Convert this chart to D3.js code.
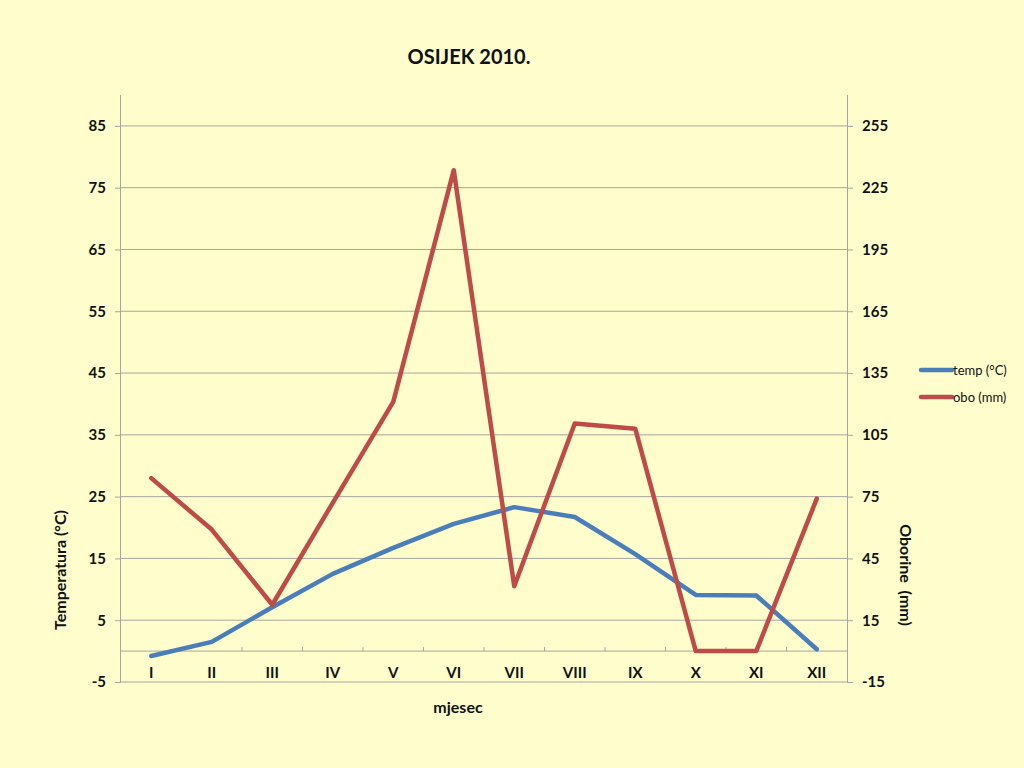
<!DOCTYPE html>
<html><head><meta charset="utf-8">
<script src="https://cdn.jsdelivr.net/npm/d3@7"></script>
<style>
html,body{margin:0;padding:0;background:#FEFDCB;}
svg{display:block;}
text{font-family:Lato,"Open Sans",sans-serif;fill:#111;}
</style></head>
<body>
<script>
const months = ["I","II","III","IV","V","VI","VII","VIII","IX","X","XI","XII"];
const temp = [-0.8, 1.5, 7.1, 12.5, 16.7, 20.6, 23.3, 21.7, 15.7, 9.1, 9.0, 0.3];
const obo = [84, 59, 22.5, 72, 121, 233.5, 31.5, 110.5, 108, 0, 0, 74];
const leftTicks = [-5, 5, 15, 25, 35, 45, 55, 65, 75, 85];
const rightTicks = [-15, 15, 45, 75, 105, 135, 165, 195, 225, 255];
const seriesNames = ["temp (°C)", "obo (mm)"];
const colors = ["#4A7EBB", "#BE4B48"];

const W = 1024, H = 768;
const L = 121, R = 847, T = 95, B = 682;
const svg = d3.select("body").append("svg").attr("width", W).attr("height", H);
svg.append("rect").attr("width", W).attr("height", H).attr("fill", "#FEFDCB");

const x = d3.scaleBand().domain(months).range([L, R]);
const yL = d3.scaleLinear().domain([-5, 90]).range([B, T]);
const yR = d3.scaleLinear().domain([-15, 270]).range([B, T]);

// gridlines
svg.append("g").selectAll("line").data(leftTicks).join("line")
  .attr("x1", L).attr("x2", R).attr("y1", d => yL(d)).attr("y2", d => yL(d))
  .attr("stroke", "#A6A6A0").attr("stroke-width", 1);

// left axis
const gL = svg.append("g").attr("transform", `translate(${L},0)`)
  .call(d3.axisLeft(yL).tickValues(leftTicks).tickFormat(d => String(d)).tickSize(6).tickPadding(9));
gL.select(".domain").attr("stroke", "#A6A6A0").attr("d", `M-0.5,${T}V${B}`);
gL.selectAll(".tick line").attr("stroke", "#A6A6A0");
gL.selectAll("text").attr("font-size", 15).attr("font-weight", "bold").attr("fill", "#111").attr("font-family", "Lato");

// right axis
const gR = svg.append("g").attr("transform", `translate(${R},0)`)
  .call(d3.axisRight(yR).tickValues(rightTicks).tickFormat(d => String(d)).tickSize(6).tickPadding(9));
gR.select(".domain").attr("stroke", "#A6A6A0").attr("d", `M0.5,${T}V${B}`);
gR.selectAll(".tick line").attr("stroke", "#A6A6A0");
gR.selectAll("text").attr("font-size", 15).attr("font-weight", "bold").attr("fill", "#111").attr("font-family", "Lato");

// category axis at 0
const y0 = yL(0);
svg.append("line").attr("x1", L).attr("x2", R).attr("y1", y0).attr("y2", y0)
  .attr("stroke", "#A6A6A0");
svg.append("g").selectAll("line").data(months.slice(1)).join("line")
  .attr("x1", d => x(d)).attr("x2", d => x(d)).attr("y1", y0 - 4).attr("y2", y0)
  .attr("stroke", "#A6A6A0");
svg.append("g").selectAll("text").data(months).join("text")
  .attr("x", d => x(d) + x.bandwidth() / 2).attr("y", 678)
  .attr("text-anchor", "middle").attr("font-size", 15).attr("font-weight", "bold")
  .text(d => d);

// lines
const cx = d => x(d) + x.bandwidth() / 2;
const lineT = d3.line().x((d, i) => cx(months[i])).y(d => yL(d));
const lineO = d3.line().x((d, i) => cx(months[i])).y(d => yR(d));
svg.append("path").datum(temp).attr("d", lineT).attr("fill", "none")
  .attr("stroke", colors[0]).attr("stroke-width", 4.5).attr("stroke-linejoin", "round").attr("stroke-linecap", "round");
svg.append("path").datum(obo).attr("d", lineO).attr("fill", "none")
  .attr("stroke", colors[1]).attr("stroke-width", 4.5).attr("stroke-linejoin", "round").attr("stroke-linecap", "round");

// title
svg.append("text").attr("x", 469).attr("y", 64).attr("text-anchor", "middle")
  .attr("font-size", 20).attr("font-weight", "bold").text("OSIJEK 2010.");

// axis titles
svg.append("text").attr("transform", "translate(66,570) rotate(-90)")
  .attr("text-anchor", "middle").attr("font-size", 16).attr("font-weight", "bold").text("Temperatura (°C)");
svg.append("text").attr("transform", "translate(900,575) rotate(90)")
  .attr("text-anchor", "middle").attr("font-size", 16).attr("font-weight", "bold")
  .attr("xml:space", "preserve").style("white-space", "pre").text("Oborine  (mm)");
svg.append("text").attr("x", 458).attr("y", 713).attr("text-anchor", "middle")
  .attr("font-size", 16).attr("font-weight", "bold").text("mjesec");

// legend
const leg = svg.append("g").selectAll("g").data(seriesNames).join("g")
  .attr("transform", (d, i) => `translate(921,${370 + i * 27})`);
leg.append("line").attr("x1", 0).attr("x2", 31).attr("y1", 0).attr("y2", 0)
  .attr("stroke", (d, i) => colors[i]).attr("stroke-width", 4.5).attr("stroke-linecap", "round");
leg.append("text").attr("x", 32).attr("y", 4.5).attr("font-size", 13).text(d => d);
</script>
</body></html>
